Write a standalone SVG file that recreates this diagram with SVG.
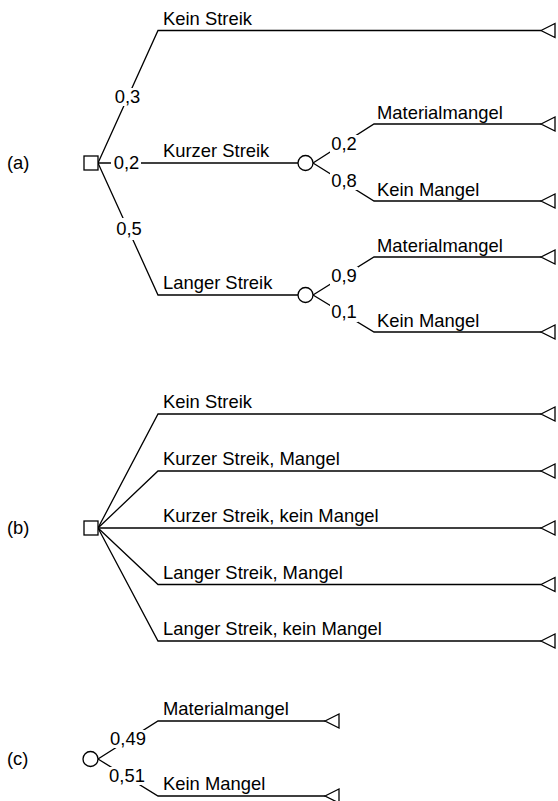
<svg xmlns="http://www.w3.org/2000/svg" width="558" height="801" viewBox="0 0 558 801">
<style>
.ln{fill:none;stroke:#000;stroke-width:1.3}
.nd{fill:#fff;stroke:#000;stroke-width:1.3}
.t{font-family:"Liberation Sans",Arial,sans-serif;font-size:18.4px;fill:#000}
.m{text-anchor:middle}
.bg{fill:#fff;stroke:none}
</style>
<defs>
<path id="tri" d="M0,0 L14,-7 L14,7 Z" class="nd"/>
</defs>
<rect width="558" height="801" fill="#fff"/>
<g id="connectors">
<!-- (a) -->
<polyline class="ln" points="98,163 158,30.5 541,30.5"/>
<polyline class="ln" points="98,163 298,163"/>
<polyline class="ln" points="98,163 158,295 298,295"/>
<polyline class="ln" points="313,163 374,124 541,124"/>
<polyline class="ln" points="313,163 374,201 541,201"/>
<polyline class="ln" points="313,295 374,257 541,257"/>
<polyline class="ln" points="313,295 374,332 541,332"/>
<!-- (b) -->
<polyline class="ln" points="98,528 158,414 541,414"/>
<polyline class="ln" points="98,528 158,471 541,471"/>
<polyline class="ln" points="98,528 541,528"/>
<polyline class="ln" points="98,528 158,584.5 541,584.5"/>
<polyline class="ln" points="98,528 158,641 541,641"/>
<!-- (c) -->
<polyline class="ln" points="98,759 158,721 325,721"/>
<polyline class="ln" points="98,759 158,796 325,796"/>
</g>
<g id="edge-labels">
<rect class="bg" x="113" y="88" width="29" height="18"/><text class="t m" x="127.5" y="102.5">0,3</text>
<rect class="bg" x="111" y="154" width="30" height="18"/><text class="t m" x="126.5" y="168.5">0,2</text>
<rect class="bg" x="114" y="218" width="30" height="22"/><text class="t m" x="129" y="234.5">0,5</text>
<rect class="bg" x="330" y="135" width="28" height="18"/><text class="t m" x="344" y="150">0,2</text>
<rect class="bg" x="330" y="172" width="28" height="18"/><text class="t m" x="344" y="187">0,8</text>
<rect class="bg" x="330" y="267" width="28" height="18"/><text class="t m" x="344" y="282">0,9</text>
<rect class="bg" x="330" y="304" width="28" height="18"/><text class="t m" x="344" y="318">0,1</text>
<rect class="bg" x="108" y="730" width="40" height="18"/><text class="t m" x="128" y="745">0,49</text>
<rect class="bg" x="108" y="767" width="39" height="18"/><text class="t m" x="127" y="782">0,51</text>
</g>
<g id="branch-labels">
<text class="t" x="163" y="25">Kein Streik</text>
<text class="t" x="163" y="157">Kurzer Streik</text>
<text class="t" x="163" y="289">Langer Streik</text>
<text class="t" x="377" y="118.5">Materialmangel</text>
<text class="t" x="377" y="196">Kein Mangel</text>
<text class="t" x="377" y="251.5">Materialmangel</text>
<text class="t" x="377" y="326.5">Kein Mangel</text>
<text class="t" x="163" y="408">Kein Streik</text>
<text class="t" x="163" y="465">Kurzer Streik, Mangel</text>
<text class="t" x="163" y="522">Kurzer Streik, kein Mangel</text>
<text class="t" x="163" y="578.5">Langer Streik, Mangel</text>
<text class="t" x="163" y="635">Langer Streik, kein Mangel</text>
<text class="t" x="163" y="715">Materialmangel</text>
<text class="t" x="163" y="790">Kein Mangel</text>
</g>
<g id="part-labels">
<text class="t" x="7" y="169">(a)</text>
<text class="t" x="7" y="534">(b)</text>
<text class="t" x="7" y="765">(c)</text>
</g>
<g id="decision-a"><rect class="nd" x="84" y="156" width="14" height="14"/></g>
<g id="chance-a1"><circle class="nd" cx="305.5" cy="163" r="7.5"/></g>
<g id="chance-a2"><circle class="nd" cx="305.5" cy="295" r="7.5"/></g>
<g id="decision-b"><rect class="nd" x="84" y="521" width="14" height="14"/></g>
<g id="chance-c"><circle class="nd" cx="90.5" cy="759" r="7.5"/></g>
<g id="terminals">
<use href="#tri" x="541" y="30.5"/>
<use href="#tri" x="541" y="124"/>
<use href="#tri" x="541" y="201"/>
<use href="#tri" x="541" y="257"/>
<use href="#tri" x="541" y="332"/>
<use href="#tri" x="541" y="414"/>
<use href="#tri" x="541" y="471"/>
<use href="#tri" x="541" y="528"/>
<use href="#tri" x="541" y="584.5"/>
<use href="#tri" x="541" y="641"/>
<use href="#tri" x="325" y="721"/>
<use href="#tri" x="325" y="796"/>
</g>
</svg>
